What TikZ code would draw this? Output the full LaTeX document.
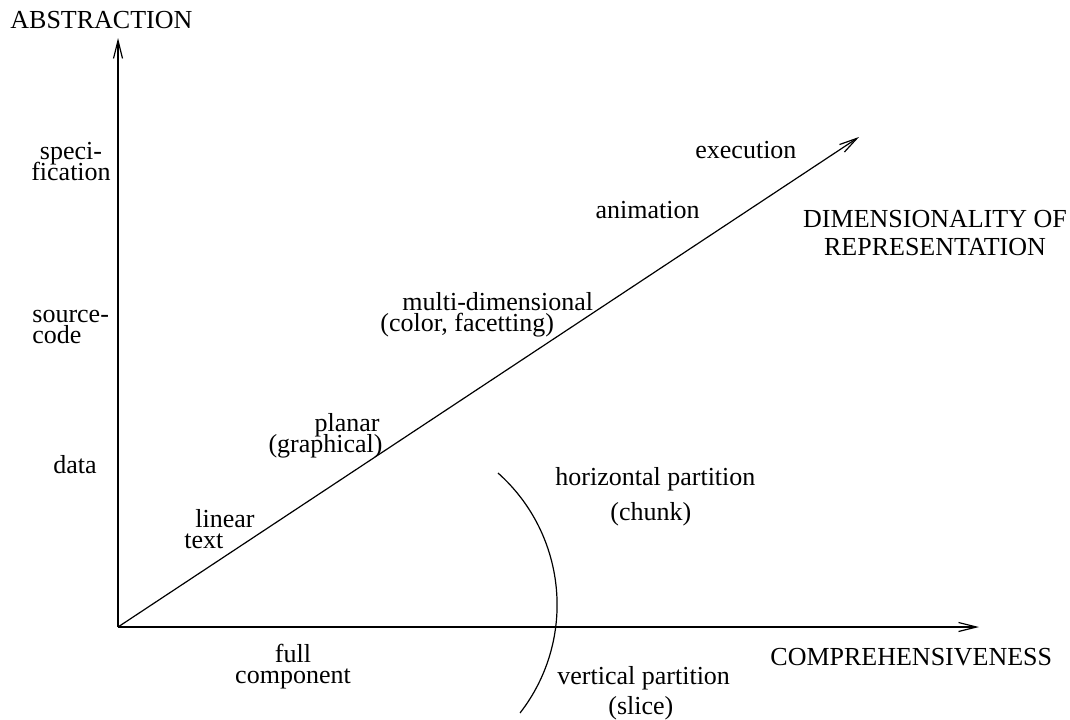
\documentclass[tikz,border=0pt]{standalone}
\usepackage{fontspec}
\setmainfont{Liberation Serif}
\usetikzlibrary{arrows.meta}
\usetikzlibrary{positioning}
\newcommand{\tightlines}{\lineskiplimit=-100pt\relax}

\begin{document}
\begin{tikzpicture}
    [
    x=0.5pt, y=-0.5pt,
    axis/.style = {line width=0.6pt, -{Straight Barb[length=9pt,width=4.5pt,line width=0.6pt]}},
    lbl/.style = {inner sep=0pt, font=\fontsize{13}{10.5}\selectfont\tightlines},
    wide/.style = {lbl, font=\fontsize{13}{14}\selectfont\tightlines}
    ]
\useasboundingbox (0,0) rectangle (1070,719);
\coordinate (o) at (118,627);
\coordinate (abs) at (118,38);
\coordinate (comp) at (979,627);
\coordinate (dim) at (859,137);

\draw[axis] (o) -- (abs);
\draw[axis] (o) -- (comp);
\draw[axis] (o) -- (dim);
\draw[line width=0.6pt] (498,473) arc[start angle=-48.3, end angle=37.8, radius=176.5];

% axis names
\node[lbl,anchor=base west] (abslbl) at (10,28) {ABSTRACTION};
\node[lbl,anchor=base west] (complbl) at (770,665) {COMPREHENSIVENESS};
\node[wide,anchor=base,align=center] (dimlbl) at (935,255) {DIMENSIONALITY OF\\REPRESENTATION};

% abstraction
\node[lbl,anchor=base,align=center] (spec) at (71,180) {speci-\\fication};
\node[lbl,anchor=base west,align=left] (src) at (32,343) {source-\\code};
\node[lbl,anchor=base west] (data) at (53,473) {data};

% dimensionality
\node[lbl,anchor=base west,align=left] (lin) at (184,548) {\hspace*{5.5pt}linear\\text};
\node[lbl,anchor=base east,align=right] (plan) at (383,452) {planar\hspace*{1.5pt}\\(graphical)};
\node[lbl,anchor=base west,align=left] (multi) at (380,331) {\hspace*{11pt}multi-dimensional\\(color, facetting)};
\node[lbl,anchor=base east] (anim) at (700,218) {animation};
\node[lbl,anchor=base west] (exec) at (695,158) {execution};

% comprehensiveness
\node[lbl,anchor=base west] (hor1) at (555,485) {horizontal partition};
\node[lbl,anchor=base west] (hor2) at (610,520) {(chunk)};
\node[lbl,anchor=base west] (ver1) at (557,684) {vertical partition};
\node[lbl,anchor=base west] (ver2) at (608,714) {(slice)};
\node[lbl,anchor=base,align=center] (full) at (293,683) {full\\component};
\end{tikzpicture}
\end{document}
